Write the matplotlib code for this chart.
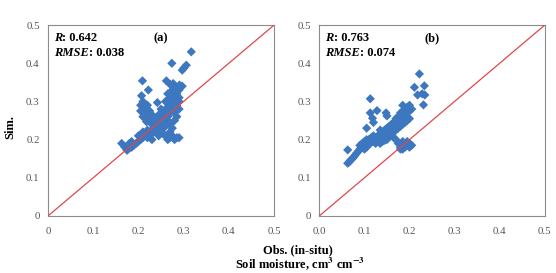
import matplotlib
matplotlib.use('Agg')
import matplotlib.pyplot as plt
import numpy as np

# panel (a)
obs_a = [0.175, 0.18, 0.185, 0.19, 0.195, 0.2, 0.205, 0.21, 0.215, 0.22, 0.225, 0.23, 0.235, 0.24,
         0.245, 0.25, 0.255, 0.26, 0.265, 0.27, 0.275, 0.28, 0.285, 0.29,
         0.2, 0.21, 0.22, 0.23, 0.24, 0.25, 0.26, 0.27, 0.28, 0.29, 0.285, 0.29,
         0.22, 0.23, 0.24, 0.25, 0.26, 0.27, 0.28, 0.275,
         0.163, 0.17, 0.18, 0.185, 0.175,
         0.26, 0.265, 0.27, 0.275, 0.28, 0.285, 0.29, 0.27, 0.255, 0.245, 0.23,
         0.207, 0.21, 0.205, 0.21, 0.215, 0.22, 0.225, 0.215, 0.22, 0.23, 0.225, 0.21, 0.218, 0.23, 0.205,
         0.209, 0.222, 0.242, 0.317, 0.274, 0.306, 0.297, 0.301,
         0.262, 0.27, 0.277, 0.275, 0.28, 0.285, 0.291, 0.297, 0.265, 0.27, 0.275, 0.265, 0.26, 0.26,
         0.255, 0.25, 0.245, 0.24, 0.285, 0.28, 0.27, 0.28, 0.285, 0.29, 0.265]
sim_a = [0.172, 0.178, 0.18, 0.185, 0.19, 0.195, 0.2, 0.205, 0.21, 0.215, 0.22, 0.225, 0.23, 0.235,
         0.24, 0.245, 0.25, 0.255, 0.26, 0.27, 0.275, 0.285, 0.29, 0.3,
         0.21, 0.22, 0.225, 0.24, 0.25, 0.26, 0.27, 0.28, 0.3, 0.31, 0.32, 0.33,
         0.205, 0.215, 0.22, 0.225, 0.235, 0.24, 0.25, 0.23,
         0.19, 0.18, 0.19, 0.195, 0.175,
         0.21, 0.2, 0.205, 0.21, 0.2, 0.205, 0.205, 0.22, 0.215, 0.21, 0.2,
         0.315, 0.3, 0.29, 0.28, 0.285, 0.29, 0.275, 0.27, 0.26, 0.265, 0.25, 0.26, 0.247, 0.245, 0.275,
         0.354, 0.33, 0.297, 0.43, 0.4, 0.395, 0.382, 0.388,
         0.354, 0.345, 0.347, 0.33, 0.34, 0.335, 0.343, 0.34, 0.32, 0.31, 0.3, 0.295, 0.3, 0.28,
         0.27, 0.28, 0.265, 0.255, 0.31, 0.32, 0.29, 0.27, 0.26, 0.28, 0.25]

# panel (b)
obs_b = [0.063, 0.067, 0.07, 0.073, 0.077, 0.08, 0.083, 0.087, 0.09, 0.093, 0.097, 0.1, 0.105, 0.11,
         0.115, 0.12, 0.125, 0.13, 0.135, 0.14, 0.145, 0.15, 0.09, 0.095, 0.1, 0.105, 0.11, 0.115,
         0.12, 0.125, 0.1, 0.105,
         0.13, 0.135, 0.14, 0.145, 0.15, 0.155, 0.16, 0.165, 0.17, 0.175, 0.18, 0.185, 0.19, 0.195,
         0.2, 0.205, 0.2, 0.185, 0.19, 0.195, 0.18, 0.175, 0.17, 0.165, 0.16, 0.155, 0.15, 0.155,
         0.16, 0.165, 0.17, 0.175, 0.18, 0.185, 0.19, 0.195, 0.2, 0.14, 0.145, 0.135,
         0.113, 0.128, 0.148, 0.15, 0.113, 0.118, 0.12, 0.105, 0.063, 0.222, 0.211, 0.233, 0.218,
         0.234, 0.231, 0.228, 0.135,
         0.18, 0.185, 0.19, 0.195, 0.2, 0.19, 0.185, 0.195, 0.2, 0.175, 0.18, 0.205, 0.17, 0.165]
sim_b = [0.138, 0.142, 0.147, 0.15, 0.155, 0.16, 0.165, 0.17, 0.175, 0.18, 0.183, 0.185, 0.19, 0.19,
         0.192, 0.195, 0.19, 0.195, 0.19, 0.195, 0.198, 0.2, 0.185, 0.19, 0.195, 0.2, 0.2, 0.205,
         0.21, 0.205, 0.175, 0.18,
         0.21, 0.215, 0.22, 0.225, 0.23, 0.225, 0.23, 0.235, 0.24, 0.245, 0.25, 0.26, 0.265, 0.27,
         0.275, 0.28, 0.29, 0.29, 0.28, 0.285, 0.27, 0.26, 0.255, 0.245, 0.24, 0.235, 0.215, 0.21,
         0.215, 0.22, 0.225, 0.23, 0.235, 0.24, 0.245, 0.25, 0.255, 0.205, 0.21, 0.2,
         0.307, 0.276, 0.27, 0.262, 0.27, 0.256, 0.245, 0.23, 0.173, 0.372, 0.337, 0.341, 0.317,
         0.317, 0.291, 0.32, 0.225,
         0.18, 0.175, 0.18, 0.185, 0.18, 0.19, 0.195, 0.195, 0.19, 0.19, 0.175, 0.185, 0.2, 0.205]

labels = ['(a)', '(b)']
r_vals = ['0.642', '0.763']
rmse_vals = ['0.038', '0.074']
xtick_labels = [['0', '0.1', '0.2', '0.3', '0.4', '0.5'],
                ['0.0', '0.1', '0.2', '0.3', '0.4', '0.5']]
ytick_labels = ['0', '0.1', '0.2', '0.3', '0.4', '0.5']
ticks = [0, 0.1, 0.2, 0.3, 0.4, 0.5]

plt.rcParams['font.family'] = ['Liberation Serif', 'DejaVu Serif']
plt.rcParams['mathtext.fontset'] = 'stix'

fig = plt.figure(figsize=(5.56, 2.73), dpi=100)
ax1 = fig.add_axes([0.0863, 0.209, 0.4065, 0.699])
ax2 = fig.add_axes([0.5743, 0.209, 0.4054, 0.699])

data = [(obs_a, sim_a), (obs_b, sim_b)]
for i, ax in enumerate([ax1, ax2]):
    x, y = data[i]
    ax.plot([0, 0.5], [0, 0.5], color='#e0474c', lw=0.9, zorder=3)
    ax.scatter(x, y, marker='D', s=22, color='#3d77c0', edgecolors='none', zorder=2)
    ax.set_xlim(0, 0.5)
    ax.set_ylim(0, 0.5)
    ax.set_xticks(ticks)
    ax.set_xticklabels(xtick_labels[i])
    ax.set_yticks(ticks)
    ax.set_yticklabels(ytick_labels)
    ax.tick_params(length=0, labelsize=7.8, colors='#555555', pad=6)
    ax.tick_params(axis='x', pad=8)
    for spine in ax.spines.values():
        spine.set_color('#8c8c8c')
        spine.set_linewidth(0.8)

    t = ax.text(0.027, 0.932, 'R', transform=ax.transAxes, fontsize=9, fontweight='bold',
                fontstyle='italic', va='center')
    ax.annotate(': ' + r_vals[i], xy=(1, 0), xycoords=t, va='bottom', fontsize=9, fontweight='bold')
    t2 = ax.text(0.027, 0.853, 'RMSE', transform=ax.transAxes, fontsize=9, fontweight='bold',
                 fontstyle='italic', va='center')
    ax.annotate(': ' + rmse_vals[i], xy=(1, 0), xycoords=t2, va='bottom', fontsize=9, fontweight='bold')
    ax.text(0.5, 0.932, labels[i], transform=ax.transAxes, fontsize=9, fontweight='bold',
            ha='center', va='center')

fig.text(0.018, 1 - 127 / 273, 'Sim.', rotation=90, fontsize=9, fontweight='bold',
         ha='center', va='center')
fig.text(0.536, 1 - 250 / 273, 'Obs. (in-situ)', fontsize=9, fontweight='bold',
         ha='center', va='center')
fig.text(0.54, 0.005, r'Soil moisture, cm$^\mathbf{3}$ cm$^\mathbf{-3}$', fontsize=9,
         fontweight='bold', ha='center', va='bottom')

fig.savefig('out.png', dpi=100)
